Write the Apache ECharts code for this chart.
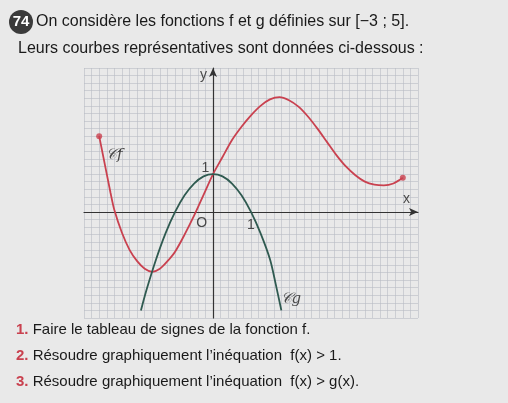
<!DOCTYPE html>
<html><head><meta charset="utf-8">
<script src="https://cdn.jsdelivr.net/npm/echarts@6/dist/echarts.min.js"></script>
<style>body{margin:0;background:#e9e9e9}#c{width:508px;height:403px}</style>
</head><body><div id="c"></div>
<script>
// courbe f
var fPoints = [[-3, 2], [-2.9, 1.5], [-2.8, 1.0], [-2.7, 0.5], [-2.6, 0.05], [-2.4, -0.55],
  [-2.2, -1.0], [-2, -1.3], [-1.8, -1.5], [-1.6, -1.58], [-1.4, -1.5], [-1.2, -1.3],
  [-1, -1.05], [-0.75, -0.6], [-0.5, -0.1], [-0.25, 0.45], [0, 1], [0.25, 1.45], [0.5, 1.9],
  [0.75, 2.25], [1, 2.55], [1.25, 2.8], [1.5, 2.97], [1.75, 3.03], [2, 2.95], [2.25, 2.78],
  [2.5, 2.52], [2.75, 2.2], [3, 1.85], [3.25, 1.5], [3.5, 1.2], [3.75, 0.97], [4, 0.8],
  [4.25, 0.72], [4.5, 0.7], [4.75, 0.75], [5, 0.9]];
// courbe g
var gPoints = [[-1.9, -2.6], [-1.75, -2.05], [-1.5, -1.25], [-1.25, -0.56], [-1, 0],
  [-0.75, 0.44], [-0.5, 0.75], [-0.25, 0.94], [0, 1], [0.25, 0.94], [0.5, 0.75],
  [0.75, 0.44], [1, 0], [1.25, -0.56], [1.5, -1.25], [1.65, -1.9], [1.8, -2.6]];
var endPoints = [[-3, 2], [5, 0.9]];
var axisLabels = [[-0.2, 1.15, "1"], [-0.3, -0.3, "O"], [1, -0.35, "1"], [-0.25, 3.6, "y"], [5.1, 0.35, "x"]];

var chart = echarts.init(document.getElementById("c"));
var tx = "Liberation Sans, Arial, sans-serif";
var red = "#c9414f";

function axis(min, max) {
  return {
    type: "value", min: min, max: max, interval: 0.2,
    axisLabel: { show: false }, axisTick: { show: false },
    axisLine: { onZero: true, symbol: ["none", "arrow"], symbolSize: [6, 9], lineStyle: { color: "#333", width: 1.2 } },
    splitLine: { show: true, lineStyle: { color: "#b9bcc4", width: 0.6 } }
  };
}

var option = {
  backgroundColor: "#e9e9e9",
  animation: false,
  grid: { left: 84, right: 90, top: 68, bottom: 85 },
  xAxis: axis(-3.4, 5.4),
  yAxis: axis(-2.8, 3.8),
  series: [
    { type: "line", data: fPoints, smooth: 0.3, showSymbol: false, lineStyle: { color: red, width: 1.8 } },
    { type: "line", data: gPoints, smooth: 0.3, showSymbol: false, lineStyle: { color: "#2f5a50", width: 1.8 } },
    { type: "scatter", data: endPoints, symbolSize: 6, itemStyle: { color: red } },
    {
      type: "scatter", symbolSize: 0,
      data: axisLabels.map(function (d) { return { value: [d[0], d[1]], label: { formatter: d[2] } }; }),
      label: { show: true, position: "inside", fontFamily: tx, fontSize: 14, color: "#222" }
    },
    {
      type: "scatter", symbolSize: 0,
      data: [{ value: [-2.6, 1.5], label: { formatter: "𝒞f" } }, { value: [2.05, -2.3], label: { formatter: "𝒞g" } }],
      label: { show: true, position: "inside", fontFamily: "DejaVu Serif", fontStyle: "italic", fontSize: 15, color: "#222" }
    }
  ],
  graphic: [
    { type: "circle", shape: { cx: 21, cy: 22, r: 12 }, style: { fill: "#3b3b3b" } },
    { type: "text", x: 21, y: 22, style: { text: "74", fill: "#fff", font: "bold 15px " + tx, align: "center", verticalAlign: "middle" } },
    { type: "text", x: 36, y: 14, style: { text: "On considère les fonctions f et g définies sur [−3 ; 5].", fill: "#1a1a1a", font: "16px " + tx } },
    { type: "text", x: 18, y: 41, style: { text: "Leurs courbes représentatives sont données ci-dessous :", fill: "#1a1a1a", font: "16px " + tx } },
    { type: "text", x: 16, y: 322, style: { rich: { n: { fill: red, font: "bold 15px " + tx } }, text: "{n|1.} Faire le tableau de signes de la fonction f.", fill: "#1a1a1a", font: "15px " + tx } },
    { type: "text", x: 16, y: 348, style: { rich: { n: { fill: red, font: "bold 15px " + tx } }, text: "{n|2.} Résoudre graphiquement l’inéquation  f(x) > 1.", fill: "#1a1a1a", font: "15px " + tx } },
    { type: "text", x: 16, y: 374, style: { rich: { n: { fill: red, font: "bold 15px " + tx } }, text: "{n|3.} Résoudre graphiquement l’inéquation  f(x) > g(x).", fill: "#1a1a1a", font: "15px " + tx } }
  ]
};
chart.setOption(option);
</script></body></html>
